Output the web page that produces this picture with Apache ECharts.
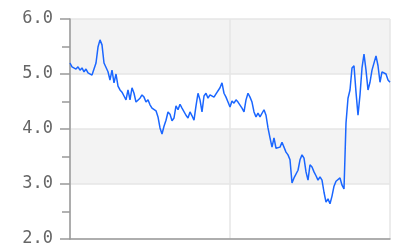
<!DOCTYPE html>
<html lang="en">
<head>
    <meta charset="UTF-8">
    <title>line</title>
    <script src="https://cdn.jsdelivr.net/npm/echarts@6/dist/echarts.min.js"></script>
    <style>
        html, body {margin:0; padding:0; background:#fff}
    </style>
</head>
<body>
<div id="main" style="width: 400px; height:250px;"></div>
<script>
    // values, one every ~2px
    var values = [
        5.20, 5.13, 5.16, 5.09, 5.13, 5.07, 5.11, 5.04, 5.09, 5.02,
        5.05, 4.98, 5.09, 5.20, 5.49, 5.62, 5.53, 5.20, 5.20, 5.04,
        4.89, 5.07, 4.84, 5.00, 4.78, 4.71, 4.67, 4.60, 4.53, 4.71,
        4.53, 4.75, 4.65, 4.49, 4.47, 4.56, 4.62, 4.58, 4.49, 4.53,
        4.44, 4.38, 4.35, 4.33, 4.22, 4.02, 3.91, 4.05, 4.16, 4.31,
        4.27, 4.15, 4.20, 4.42, 4.35, 4.45, 4.38, 4.35, 4.25, 4.20,
        4.31, 4.24, 4.16, 4.42, 4.65, 4.53, 4.31, 4.60, 4.65, 4.56,
        4.62, 4.65, 4.58, 4.64, 4.67, 4.75, 4.84, 4.65, 4.58, 4.49,
        4.40, 4.51, 4.47, 4.53, 4.49, 4.49, 4.38, 4.31, 4.53, 4.65,
        4.58, 4.49, 4.31, 4.22, 4.29, 4.22, 4.24, 4.35, 4.25, 4.02,
        3.84, 3.67, 3.84, 3.65, 3.62, 3.67, 3.76, 3.78, 3.58, 3.53,
        3.44, 3.02, 3.11, 3.11, 3.25, 3.44, 3.53, 3.47, 3.22, 3.07,
        3.35, 3.31, 3.22, 3.15, 3.07, 3.13, 3.07, 2.85, 2.67, 2.73,
        2.64, 2.78, 2.96, 3.05, 3.02, 3.11, 2.98, 2.91, 4.11, 4.56,
        4.71, 5.11, 5.15, 4.67, 4.25, 4.62, 5.11, 5.36, 5.07, 4.71,
        4.85, 5.07, 5.07, 5.33, 5.15, 4.85, 5.04, 5.04, 5.00, 4.89,
        4.85
    ];
    var yMin = 2, yMax = 6, yStep = 1;

    var points = [];
    for (var i = 0; i < values.length; i++) {
        points.push([i, values[i]]);
    }
    var last = values.length - 1;

    var chart = echarts.init(document.getElementById("main"), null, {renderer: 'canvas'});
    chart.setOption({
        animation: false,
        grid: {left: 70, right: 10, top: 19, bottom: 11},
        xAxis: {
            type: 'value',
            min: 0,
            max: last,
            interval: last / 2,
            axisLine: {show: true, onZero: false, lineStyle: {color: '#999', width: 1.5}},
            axisTick: {show: false},
            axisLabel: {show: false},
            splitLine: {show: true, lineStyle: {color: '#e6e6e6', width: 1.5}}
        },
        yAxis: {
            type: 'value',
            min: yMin,
            max: yMax,
            interval: yStep,
            axisLine: {show: true, lineStyle: {color: '#999', width: 1.5}},
            axisTick: {show: true, length: 10, lineStyle: {color: '#999', width: 1.5}},
            minorTick: {show: true, splitNumber: 2, length: 8, lineStyle: {color: '#999', width: 1.5}},
            axisLabel: {
                margin: 17,
                color: '#666',
                fontFamily: 'DejaVu Sans Mono',
                fontSize: 17,
                formatter: function (v) { return v.toFixed(1); }
            },
            splitLine: {show: true, lineStyle: {color: '#e6e6e6', width: 1.5}},
            splitArea: {show: true, areaStyle: {color: ['#ffffff', '#f3f3f3']}}
        },
        series: [{
            type: 'line',
            symbol: 'none',
            data: points,
            lineStyle: {color: '#1a66ff', width: 1.5}
        }]
    });
</script>
</body>
</html>
